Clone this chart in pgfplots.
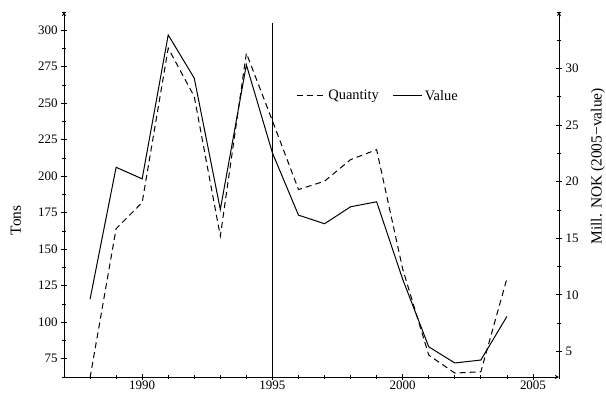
\documentclass[border=0pt]{standalone}
\usepackage{fontspec}
\setmainfont{Liberation Serif}
\usepackage{pgfplots}
\pgfplotsset{compat=1.18}
\begin{document}
\begin{tikzpicture}[x=1bp,y=1bp]
\useasboundingbox (0,0) rectangle (606,392);
\pgfplotsset{
  common/.style={
    at={(64bp,15bp)}, anchor=south west,
    scale only axis, width=495bp, height=365bp,
    xmin=1987, xmax=2006,
    tick align=inside,
    major tick length=6bp, minor tick length=3.5bp,
    every tick/.style={black, line width=0.8bp},
    axis line style={-, black, line width=0.9bp},
    tick label style={font=\fontsize{13}{15}\selectfont},
    /pgf/number format/assume math mode=true,
    /pgf/number format/set thousands separator={},
    clip=true,
  }
}
\begin{axis}[common,
  axis x line=bottom, axis y line=left,
  ymin=62.5, ymax=312.5,
  xtick={1990,1995,2000,2005},
  minor xtick={1988,1989,1991,1992,1993,1994,1996,1997,1998,1999,2001,2002,2003,2004,2006},
  xticklabel style={inner ysep=0.5bp},
  ytick={75,100,125,150,175,200,225,250,275,300},
  minor ytick={62.5,87.5,112.5,137.5,162.5,187.5,212.5,237.5,262.5,287.5,312.5},
  ylabel={Tons},
  ylabel style={at={(rel axis cs:-0.097,0.429)}, anchor=center, font=\fontsize{15.5}{18}\selectfont},
]
\addplot[black, line width=1bp, dash pattern=on 6bp off 4bp] coordinates {
(1988,62) (1989,164.1) (1990,182) (1991,287.7) (1992,254.6) (1993,159.0)
(1994,284.3) (1995,238) (1996,190.9) (1997,196.6) (1998,211.4) (1999,218.2)
(2000,136.5) (2001,77.5) (2002,65.2) (2003,66.1) (2004,129.9)
};
\addplot[black, line width=0.9bp] coordinates {(1995,62.5) (1995,305)};
\end{axis}
\begin{axis}[common,
  axis x line=none, axis y line=right,
  ymin=2.73, ymax=35,
  ytick={5,10,15,20,25,30},
  minor ytick={7.5,12.5,17.5,22.5,27.5,32.5,35},
  ylabel={Mill. NOK (2005−value)},
  ylabel style={at={(rel axis cs:1.0788,0.577)}, anchor=center, rotate=0, font=\fontsize{15.5}{18}\selectfont},
  legend style={draw=none, fill=none, at={(rel axis cs:0.469,0.7705)}, anchor=west,
    inner sep=0pt, font=\fontsize{14.5}{17}\selectfont,
    /tikz/every even column/.append style={column sep=12bp}},
  legend columns=2,
  legend image code/.code={\draw[#1] (0bp,0bp) -- (29bp,0bp);},
]
\addlegendimage{black, line width=1bp, dash pattern=on 6bp off 4bp}
\addlegendentry{Quantity}
\addplot[black, line width=1bp] coordinates {
(1988,9.61) (1989,21.27) (1990,20.25) (1991,32.97) (1992,29.15) (1993,17.54)
(1994,30.33) (1995,22.54) (1996,17.04) (1997,16.28) (1998,17.78) (1999,18.22)
(2000,11.37) (2001,5.4) (2002,3.97) (2003,4.23) (2004,8.08)
};
\addlegendentry{Value}
\end{axis}
\end{tikzpicture}
\end{document}
